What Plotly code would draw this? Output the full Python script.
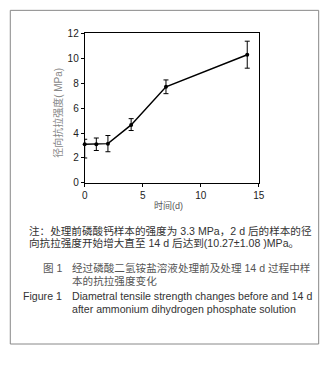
import plotly.graph_objects as go

days = [0, 1, 2, 4, 7, 14]
strength = [3.1, 3.1, 3.15, 4.65, 7.7, 10.27]
err_plus = [0.4, 0.5, 0.65, 0.5, 0.55, 1.08]
err_minus = [1.1, 0.5, 0.65, 0.45, 0.55, 1.08]
x_ticks = [0, 5, 10, 15]
y_ticks = [0, 2, 4, 6, 8, 10, 12]

W, H = 331, 365
def px(x): return x / W
def py(y): return 1 - y / H

fig = go.Figure()
fig.add_trace(go.Scatter(
    x=days, y=strength, mode="lines+markers",
    line=dict(color="black", width=1.5),
    marker=dict(color="black", size=4),
    error_y=dict(type="data", symmetric=False, array=err_plus, arrayminus=err_minus,
                 color="black", thickness=1, width=2.5),
    cliponaxis=False, showlegend=False))

tickfont = dict(family="Liberation Sans, Arial", size=10, color="#222")
fig.update_layout(
    width=W, height=H, margin=dict(l=0, r=0, t=0, b=0),
    paper_bgcolor="white", plot_bgcolor="white",
    xaxis=dict(domain=[px(84), px(263)], range=[0, 15], tickvals=x_ticks,
               showline=True, linecolor="black", linewidth=1, mirror=True,
               ticks="outside", ticklen=3, tickcolor="black", showgrid=False,
               zeroline=False, tickfont=tickfont, anchor="y"),
    yaxis=dict(domain=[py(183), py(28)], range=[0, 12], tickvals=y_ticks,
               showline=True, linecolor="black", linewidth=1, mirror=True,
               ticks="outside", ticklen=3, tickcolor="black", showgrid=False,
               zeroline=False, tickfont=tickfont, anchor="x"),
)

cjk = "Noto Sans CJK SC"
ann = []
def add(text, x, y, size=10.6, color="#333", xanchor="left", angle=0):
    ann.append(dict(text=text, x=px(x), y=py(y), xref="paper", yref="paper",
                    xanchor=xanchor, yanchor="middle", showarrow=False, textangle=angle,
                    font=dict(family=f"Liberation Sans, {cjk}", size=size, color=color)))

add("径向抗拉强度( MPa)", 57, 110, size=10, color="#888", xanchor="center", angle=-90)
add("时间(d)", 170, 206, size=9, color="#555", xanchor="center")
add("注：处理前磷酸钙样本的强度为 3.3 MPa，2 d 后的样本的径", 25, 233)
add("向抗拉强度开始增大直至 14 d 后达到(10.27±1.08 )MPa。", 25, 245)
add("图 1", 39, 271, color="#555")
add("经过磷酸二氢铵盐溶液处理前及处理 14 d 过程中样", 69, 271, color="#555")
add("本的抗拉强度变化", 69, 284, color="#555")
add("Figure 1", 19, 300)
add("Diametral tensile strength changes before and 14 d", 69, 300)
add("after ammonium dihydrogen phosphate solution", 69, 313)
fig.update_layout(annotations=ann)

fig.add_shape(type="rect", xref="paper", yref="paper",
              x0=px(7.5), x1=px(324.5), y0=py(349.5), y1=py(4.5),
              line=dict(color="#888", width=1))

fig.write_html("out.html", config={"displayModeBar": False},
               post_script="document.body.style.margin='0';document.body.style.padding='0';")
